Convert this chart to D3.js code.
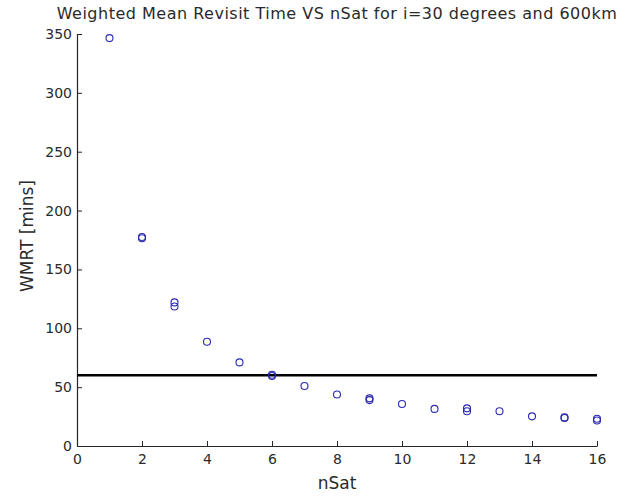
<!DOCTYPE html>
<html>
<head>
<meta charset="utf-8">
<script src="https://cdn.jsdelivr.net/npm/d3@7/dist/d3.min.js"></script>
<style>
  body { margin: 0; background: #fff; }
  svg { display: block; font-family: "DejaVu Sans", sans-serif; }
</style>
</head>
<body>
<svg id="chart" width="633" height="497"></svg>
<script>
// ---- data ----
const nSat = [1, 2, 2, 3, 3, 4, 5, 6, 6, 7, 8, 9, 9, 10, 11, 12, 12, 13, 14, 15, 15, 16, 16];
const wmrt = [346.5, 177.5, 176.5, 122, 118.5, 88.5, 71, 60.5, 59.5, 51, 43.7, 40.5, 39, 35.7, 31.5, 32, 29.5, 29.5, 25.2, 24.3, 23.8, 23.2, 21.7];
const threshold = 60;
const xTicks = [0, 2, 4, 6, 8, 10, 12, 14, 16];
const yTicks = [0, 50, 100, 150, 200, 250, 300, 350];
const titleText = "Weighted Mean Revisit Time VS nSat for i=30 degrees and 600km";
const xLabel = "nSat";
const yLabel = "WMRT [mins]";

// ---- layout ----
const svg = d3.select("#chart");
const L = 77, R = 597, T = 34, B = 446;
const x = d3.scaleLinear().domain([0, 16]).range([L, R]);
const y = d3.scaleLinear().domain([0, 350]).range([B, T]);
const axisColor = "#262626";
const font = '"DejaVu Sans", sans-serif';

// x axis
const gx = svg.append("g").attr("transform", `translate(0,${B})`)
  .call(d3.axisBottom(x).tickValues(xTicks).tickSizeInner(-5).tickSizeOuter(0).tickPadding(8));
// y axis
const gy = svg.append("g").attr("transform", `translate(${L},0)`)
  .call(d3.axisLeft(y).tickValues(yTicks).tickSizeInner(-5).tickSizeOuter(0).tickPadding(5));

[gx, gy].forEach(g => {
  g.select(".domain").attr("stroke", axisColor).attr("stroke-width", 1.2);
  g.selectAll(".tick line").attr("stroke", axisColor).attr("stroke-width", 1);
  g.selectAll(".tick text").attr("fill", "#2a2a2a").style("font-size", "14px")
    .style("font-family", font);
});
gy.selectAll(".tick text").attr("x", -5);

// threshold line
svg.append("line")
  .attr("x1", x(0)).attr("x2", x(16))
  .attr("y1", y(threshold)).attr("y2", y(threshold))
  .attr("stroke", "#000").attr("stroke-width", 2.5);

// points
svg.append("g").selectAll("circle")
  .data(nSat.map((d, i) => [d, wmrt[i]]))
  .join("circle")
  .attr("cx", d => x(d[0]))
  .attr("cy", d => y(d[1]))
  .attr("r", 3.5)
  .attr("fill", "none")
  .attr("stroke", "#2a2ab0")
  .attr("stroke-width", 1.1);

// title
svg.append("text")
  .attr("x", 337).attr("y", 19)
  .attr("text-anchor", "middle")
  .style("font-size", "16px").style("letter-spacing", "0.5px")
  .style("font-family", font).attr("fill", "#2a2a2a")
  .text(titleText);

// x label
svg.append("text")
  .attr("x", (L + R) / 2).attr("y", 489)
  .attr("text-anchor", "middle")
  .style("font-size", "17px").style("font-family", font).attr("fill", "#2a2a2a")
  .text(xLabel);

// y label
svg.append("text")
  .attr("transform", `translate(33,${(T + B) / 2 - 4}) rotate(-90)`)
  .attr("text-anchor", "middle")
  .style("font-size", "17px").style("font-family", font).attr("fill", "#2a2a2a")
  .text(yLabel);
</script>
</body>
</html>
